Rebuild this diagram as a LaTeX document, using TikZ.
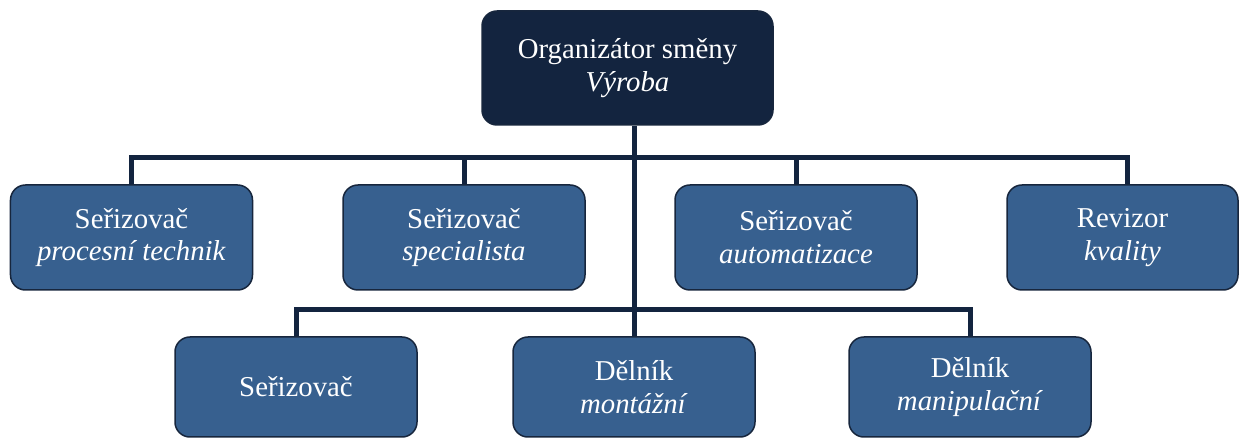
\documentclass[tikz,border=0pt]{standalone}
\usepackage{fontspec}
\setmainfont{Liberation Serif}
\definecolor{navy}{HTML}{13243F}
\definecolor{boxblue}{HTML}{37608F}
\definecolor{edge}{HTML}{17263D}
\begin{document}
\begin{tikzpicture}[x=1bp,y=-1bp,
  unit/.style={draw=edge, line width=1.5bp, rounded corners=15bp, text=white,
    align=center, inner sep=0pt, font=\fontsize{28.9}{33}\selectfont,
    minimum width=242bp},
  rowone/.style={unit, fill=boxblue, minimum height=105bp},
  rowtwo/.style={unit, fill=boxblue, minimum height=100bp},
  head/.style={unit, fill=navy, minimum width=291bp, minimum height=114bp},
  link/.style={draw=navy, line width=5bp, line join=miter}]
\useasboundingbox (0,0) rectangle (1239,439);

% head of the shift
\node[head] (top) at (627.5,68) {Organizátor směny\\\textit{Výroba}};

% first row
\node[rowone] (b1) at (131.5,237.5) {Seřizovač\\\textit{procesní technik}};
\node[rowone] (b2) at (464,237.5) {Seřizovač\\\textit{specialista}};
\node[rowone] (b3) at (796,237.5) {Seřizovač\\\textit{automatizace}};
\node[rowone, minimum width=231bp] (b4) at (1122.5,237.5) {Revizor\\\textit{kvality}};

% second row
\node[rowtwo] (b5) at (296,387) {Seřizovač};
\node[rowtwo] (b6) at (634,387) {Dělník\\\textit{montážní}};
\node[rowtwo] (b7) at (970,387) {Dělník\\\textit{manipulační}};

% bus lines
\coordinate (busA) at (0,158);
\coordinate (busB) at (0,309.5);

\draw[link] (b6.north) -- (b6.north |- top.south);
\draw[link] (b1.north) -- (b1.north |- busA) -- ([xshift=5bp]b4.north |- busA) -- ([xshift=5bp]b4.north);
\draw[link] (b2.north) -- (b2.north |- busA);
\draw[link] (b3.north) -- (b3.north |- busA);
\draw[link] (b5.north) -- (b5.north |- busB) -- (b7.north |- busB) -- (b7.north);
\end{tikzpicture}
\end{document}
